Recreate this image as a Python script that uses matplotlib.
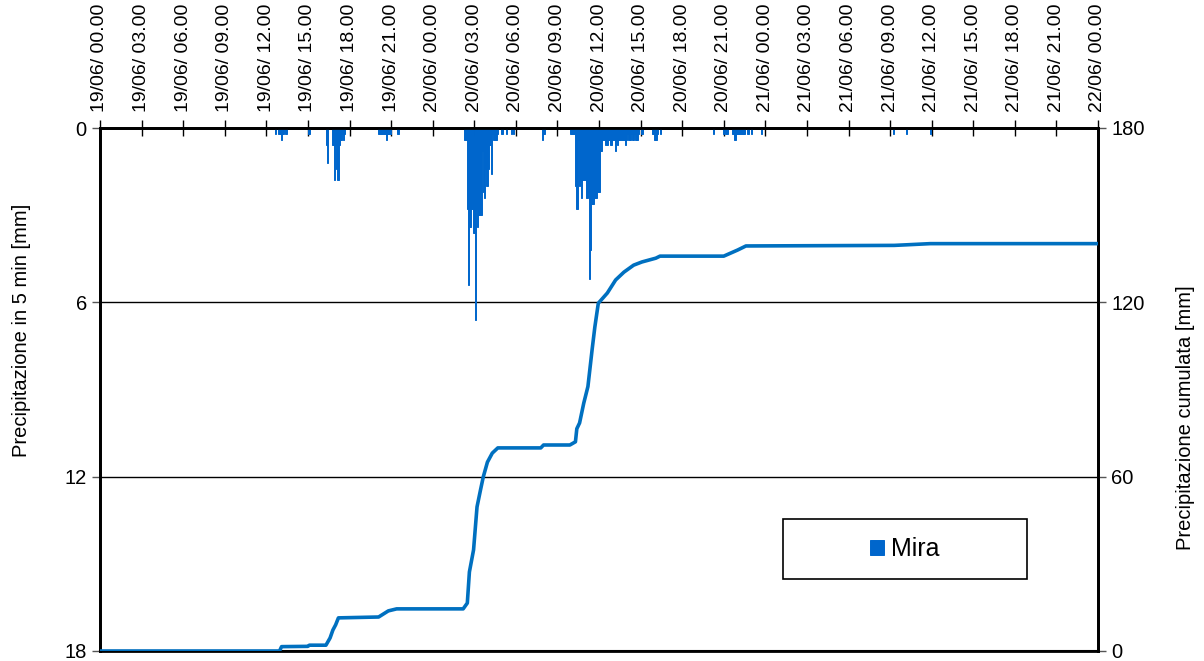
import numpy as np
import matplotlib
matplotlib.use("Agg")
import matplotlib.pyplot as plt
from matplotlib.patches import Rectangle

plt.rcParams['font.family'] = ['Liberation Sans', 'DejaVu Sans']

# tick labels every 3 hours, 19/06 00:00 -> 22/06 00:00
tick_hours = list(range(0, 73, 3))
tick_labels = ["19/06/ 00.00", "19/06/ 03.00", "19/06/ 06.00", "19/06/ 09.00",
               "19/06/ 12.00", "19/06/ 15.00", "19/06/ 18.00", "19/06/ 21.00",
               "20/06/ 00.00", "20/06/ 03.00", "20/06/ 06.00", "20/06/ 09.00",
               "20/06/ 12.00", "20/06/ 15.00", "20/06/ 18.00", "20/06/ 21.00",
               "21/06/ 00.00", "21/06/ 03.00", "21/06/ 06.00", "21/06/ 09.00",
               "21/06/ 12.00", "21/06/ 15.00", "21/06/ 18.00", "21/06/ 21.00",
               "22/06/ 00.00"]

# 5-min rain: slot index (5-min steps from 19/06 00:00) and mm
bar_slot = [152, 155, 156, 157, 158, 159, 161, 181,
            196, 197, 201, 202, 203, 204, 205, 206, 207, 208, 209, 210, 211, 212,
            241, 242, 243, 244, 245, 246, 247, 248, 249, 250, 251, 258,
            316, 317, 318, 319, 320, 321, 322, 323, 324, 325, 326, 327, 328, 329, 330,
            331, 332, 333, 334, 335, 336, 337, 338, 339, 340, 341, 342, 343, 344,
            348, 352, 356, 358, 383, 384, 385,
            407, 408, 409, 410, 411, 412, 413, 414, 415, 416, 417, 418, 419, 420,
            421, 422, 423, 424, 425, 426, 427, 428, 429, 430, 431, 432, 433, 434,
            435, 436, 437, 438, 439, 440, 441, 442, 443, 444, 445, 446, 447, 448,
            449, 450, 451, 452, 453, 454, 455, 456, 457, 458, 459, 460, 461, 462,
            463, 464, 465, 466, 469, 470, 478, 479, 480, 481, 482, 483, 485,
            531, 540, 542, 543, 548, 549, 550, 551, 552, 553, 554, 555, 556, 557, 558,
            561, 564, 573, 687, 698, 719]
bar_mm = [0.2, 0.2, 0.2, 0.4, 0.2, 0.2, 0.2, 0.2,
          0.6, 1.2, 0.6, 0.6, 1.8, 0.6, 1.4, 1.8, 0.6, 0.4, 0.4, 0.2, 0.4, 0.2,
          0.2, 0.2, 0.2, 0.2, 0.2, 0.2, 0.2, 0.4, 0.2, 0.2, 0.2, 0.2,
          0.4, 0.4, 2.8, 5.4, 3.4, 3.4, 2.8, 3.6, 3.6, 6.6, 2.8, 3.4, 3.0, 3.0, 3.0,
          0.8, 2.2, 2.4, 1.4, 2.0, 1.4, 0.6, 0.6, 1.6, 0.2, 0.4, 0.4, 0.4, 0.2,
          0.2, 0.2, 0.2, 0.2, 0.4, 0.2, 0.2,
          0.2, 0.2, 0.2, 0.2, 0.2, 2.0, 2.8, 0.4, 2.0, 1.8, 2.4, 1.8, 1.8, 1.8,
          2.4, 2.4, 2.2, 5.2, 4.2, 2.6, 2.6, 2.4, 2.4, 2.4, 2.2, 2.2, 0.8, 0.8,
          0.4, 0.4, 0.4, 0.6, 0.6, 0.4, 0.4, 0.6, 0.6, 0.4, 0.4, 0.8, 0.4, 0.6,
          0.4, 0.4, 0.4, 0.4, 0.4, 0.4, 0.6, 0.4, 0.2, 0.4, 0.4, 0.2, 0.4, 0.4,
          0.2, 0.4, 0.4, 0.2, 0.2, 0.2, 0.2, 0.2, 0.4, 0.4, 0.4, 0.2, 0.2,
          0.2, 0.2, 0.2, 0.2, 0.2, 0.4, 0.4, 0.2, 0.2, 0.2, 0.2, 0.2, 0.2, 0.2, 0.2,
          0.2, 0.2, 0.2, 0.2, 0.2, 0.2]

# cumulative rain: hours from 19/06 00:00 and mm
cum_h = [0, 12.95, 13.1, 15.0, 15.1, 16.3, 16.6, 16.8, 17.0, 17.2,
         20.1, 20.4, 20.8, 21.4, 26.2, 26.5, 26.65, 26.95, 27.2, 27.45,
         27.65, 27.95, 28.3, 28.7, 31.8, 32.0, 33.9, 34.3, 34.4, 34.6,
         34.9, 35.2, 35.5, 35.7, 35.95, 36.6, 37.2, 37.8, 38.5, 39.1,
         40.1, 40.4, 45.0, 46.0, 46.6, 57.3, 58.2, 59.9, 72]
cum_mm = [0, 0, 1.5, 1.6, 2.0, 2.0, 4.5, 7.2, 9.0, 11.4,
          11.7, 12.6, 13.8, 14.5, 14.5, 16.5, 27.2, 34.8, 49.6, 55.4,
          59.9, 65.0, 68.1, 69.9, 69.9, 70.9, 70.9, 72.0, 76.5, 78.5,
          85.3, 91.0, 103.6, 111.5, 119.7, 123.2, 127.7, 130.4, 132.8, 133.9,
          135.2, 135.9, 135.9, 138.0, 139.4, 139.6, 139.8, 140.2, 140.2]

bar_h = np.array(bar_slot) * 5 / 60.0

fig = plt.figure(figsize=(12.04, 6.61), dpi=100)
ax = fig.add_axes([100/1204, 1 - 651/661, 998/1204, 523/661])
ax2 = ax.twinx()

ax.bar(bar_h, bar_mm, width=5/60.0, color='#0066CC', edgecolor='#0066CC',
       linewidth=0.7, label='Mira', zorder=3)
ax.set_ylim(18, 0)
ax.set_xlim(0, 72)
ax.set_yticks([0, 6, 12, 18])
for g in [6, 12]:
    ax.axhline(g, color='black', lw=1, zorder=1)

ax2.plot(cum_h, cum_mm, color='#0070C0', lw=2.6, zorder=4)
ax2.set_ylim(0, 180)
ax2.set_yticks([0, 60, 120, 180])

ax.xaxis.tick_top()
ax.set_xticks(tick_hours)
ax.set_xticklabels(tick_labels, rotation=90, fontsize=14)
ax.tick_params(axis='x', direction='inout', length=11, width=1, pad=6)
ax.tick_params(axis='y', direction='out', length=6, width=1, labelsize=14.5,
               colors='#555555', labelcolor='black')
ax2.tick_params(axis='y', direction='out', length=6, width=1, labelsize=14.5,
                colors='#555555', labelcolor='black')

for a in (ax, ax2):
    for s in a.spines.values():
        s.set_linewidth(2)
        s.set_color('black')
ax.spines['bottom'].set_linewidth(1.5)

ax.set_ylabel('Precipitazione in 5 min [mm]', fontsize=14.5)
ax.yaxis.set_label_coords(-0.069, 0.614)
ax2.set_ylabel('Precipitazione cumulata [mm]', fontsize=14.5)
ax2.yaxis.set_label_coords(1.078, 0.446)

# legend box (frame drawn separately so the entry sits centred)
box = Rectangle((0.6844, 0.1377), 0.2445, 0.1147, transform=ax2.transAxes,
                facecolor='white', edgecolor='black', lw=1.2, zorder=5)
ax2.add_patch(box)
leg = ax2.legend(*ax.get_legend_handles_labels(), loc='center',
                 bbox_to_anchor=(0.8066, 0.195), fontsize=18, frameon=False,
                 handlelength=0.55, handleheight=0.55, handletextpad=0.3,
                 borderaxespad=0, borderpad=0)
leg.set_zorder(6)

fig.savefig('out.png', dpi=100)
